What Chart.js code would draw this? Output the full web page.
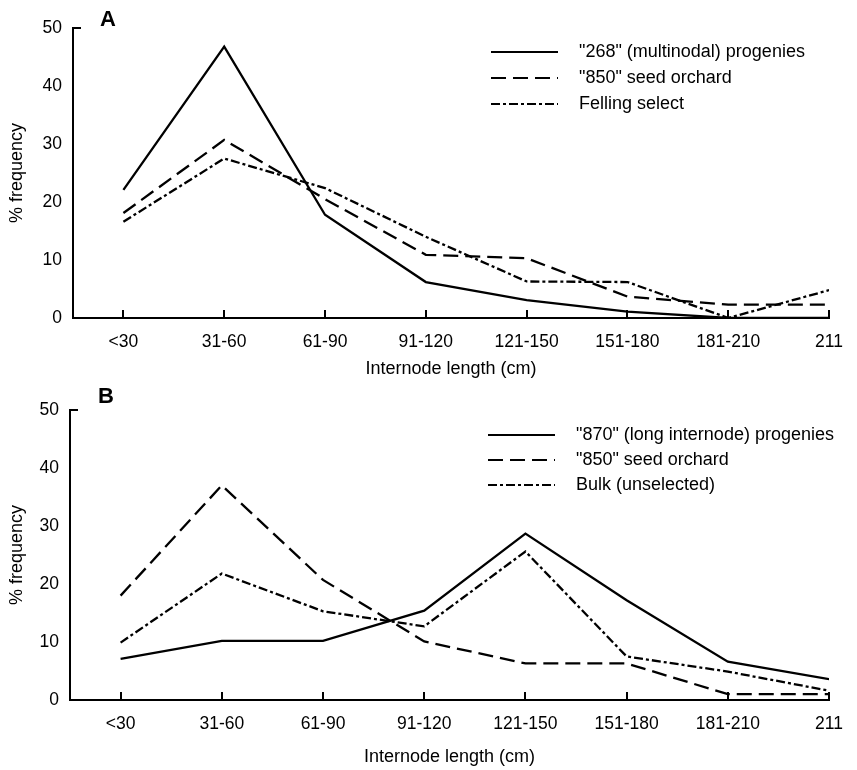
<!DOCTYPE html>
<html>
<head>
<meta charset="utf-8">
<script src="https://cdn.jsdelivr.net/npm/chart.js@4.4.1/dist/chart.umd.min.js"></script>
<style>
  html, body { margin: 0; padding: 0; background: #fff; }
  #wrap { position: relative; width: 857px; height: 770px; }
  canvas { position: absolute; left: 0; }
  #chartA { top: 0; }
  #chartB { top: 385px; }
</style>
</head>
<body>
<div id="wrap">
  <canvas id="chartA" width="857" height="385"></canvas>
  <canvas id="chartB" width="857" height="385"></canvas>
</div>
<script>
const categories = ["<30", "31-60", "61-90", "91-120", "121-150", "151-180", "181-210", "211"];

// panel A
const namesA = ['"268" (multinodal) progenies', '"850" seed orchard', "Felling select"];
const progenies268 = [22.1, 46.8, 17.8, 6.2, 3.1, 1.1, 0, 0];
const seedOrchardA = [18.1, 30.7, 20.5, 10.9, 10.3, 3.7, 2.3, 2.3];
const fellingSelect = [16.6, 27.5, 22.4, 14.0, 6.3, 6.2, 0, 4.8];

// panel B
const namesB = ['"870" (long internode) progenies', '"850" seed orchard', "Bulk (unselected)"];
const progenies870 = [7.1, 10.2, 10.2, 15.4, 28.7, 17.2, 6.6, 3.6];
const seedOrchardB = [18.0, 37.0, 20.7, 10.1, 6.3, 6.3, 1.0, 1.0];
const bulk = [9.9, 21.8, 15.3, 12.7, 25.6, 7.5, 4.9, 1.6];

const dashes = [[], [15, 7], [9, 3, 3, 3]];
const font = "'Liberation Sans', Arial, Helvetica, sans-serif";
const ink = "#000";

const paperPlugin = {
  id: "paper",
  afterDraw(chart, args, opts) {
    const ctx = chart.ctx;
    const x = chart.scales.x;
    const y = chart.scales.y;
    ctx.save();
    ctx.strokeStyle = ink;
    ctx.lineWidth = 2;
    ctx.setLineDash([]);
    // inward ticks on x axis
    categories.forEach((c, i) => {
      const px = Math.round(x.getPixelForValue(i));
      ctx.beginPath();
      ctx.moveTo(px, y.bottom);
      ctx.lineTo(px, y.bottom - 8);
      ctx.stroke();
    });
    // top tick on y axis
    const top = y.getPixelForValue(50);
    ctx.beginPath();
    ctx.moveTo(x.left - 1, top);
    ctx.lineTo(x.left + 8, top);
    ctx.stroke();

    // panel letter
    ctx.fillStyle = ink;
    ctx.font = "bold 22px " + font;
    ctx.textBaseline = "middle";
    ctx.textAlign = "left";
    ctx.fillText(opts.letter, opts.letterX, opts.letterY);

    // legend
    ctx.font = "18px " + font;
    chart.data.datasets.forEach((ds, i) => {
      const ly = opts.legendY + i * opts.legendGap;
      ctx.setLineDash(ds.borderDash);
      ctx.lineWidth = 2;
      ctx.beginPath();
      ctx.moveTo(opts.legendX, ly);
      ctx.lineTo(opts.legendX + 67, ly);
      ctx.stroke();
      ctx.setLineDash([]);
      ctx.fillText(ds.label, opts.legendX + 88, ly);
    });
    ctx.restore();
  },
};

function makeChart(id, series, names, paper, area) {
  const datasets = series.map((values, i) => ({
    label: names[i],
    data: values.map((v, j) => ({ x: j, y: v })),
    borderColor: ink,
    borderWidth: 2.3,
    borderDash: dashes[i],
    pointRadius: 0,
    tension: 0,
    fill: false,
  }));

  const config = {
    type: "line",
    data: { datasets },
    plugins: [paperPlugin],
    options: {
      responsive: false,
      animation: false,
      layout: { padding: { top: area.top, right: area.right, left: 0, bottom: 0 } },
      plugins: {
        legend: { display: false },
        tooltip: { enabled: false },
        paper,
      },
      scales: {
        x: {
          type: "linear",
          min: -0.5,
          max: categories.length - 1,
          afterBuildTicks: (s) => {
            s.ticks = categories.map((c, i) => ({ value: i }));
          },
          afterFit: (s) => {
            s.height = area.bottomHeight;
          },
          grid: { display: false, drawTicks: false },
          border: { display: true, color: ink, width: 2 },
          ticks: {
            padding: 14,
            color: ink,
            font: { family: font, size: 17.5 },
            maxRotation: 0,
            autoSkip: false,
            callback: (v) => categories[v],
          },
          title: {
            display: true,
            text: "Internode length (cm)",
            color: ink,
            font: { family: font, size: 18 },
            padding: { top: 0, bottom: area.titlePad },
          },
        },
        y: {
          min: 0,
          max: 50,
          afterFit: (s) => {
            s.width = area.left;
          },
          grid: { display: false, drawTicks: false },
          border: { display: true, color: ink, width: 2 },
          ticks: {
            stepSize: 10,
            padding: 11,
            color: ink,
            font: { family: font, size: 17.5 },
          },
          title: {
            display: true,
            text: "% frequency",
            color: ink,
            font: { family: font, size: 18 },
            padding: { top: 6, bottom: 0 },
          },
        },
      },
    },
  };

  return new Chart(document.getElementById(id), config);
}

const chartA = makeChart(
  "chartA",
  [progenies268, seedOrchardA, fellingSelect],
  namesA,
  { letter: "A", letterX: 100, letterY: 20, legendX: 491, legendY: 52, legendGap: 26 },
  { top: 28, right: 14, left: 73, bottomHeight: 67, titlePad: 5 }
);

const chartB = makeChart(
  "chartB",
  [progenies870, seedOrchardB, bulk],
  namesB,
  { letter: "B", letterX: 98, letterY: 12, legendX: 488, legendY: 50, legendGap: 25 },
  { top: 25, right: 17, left: 70, bottomHeight: 70, titlePad: 2 }
);
</script>
</body>
</html>
